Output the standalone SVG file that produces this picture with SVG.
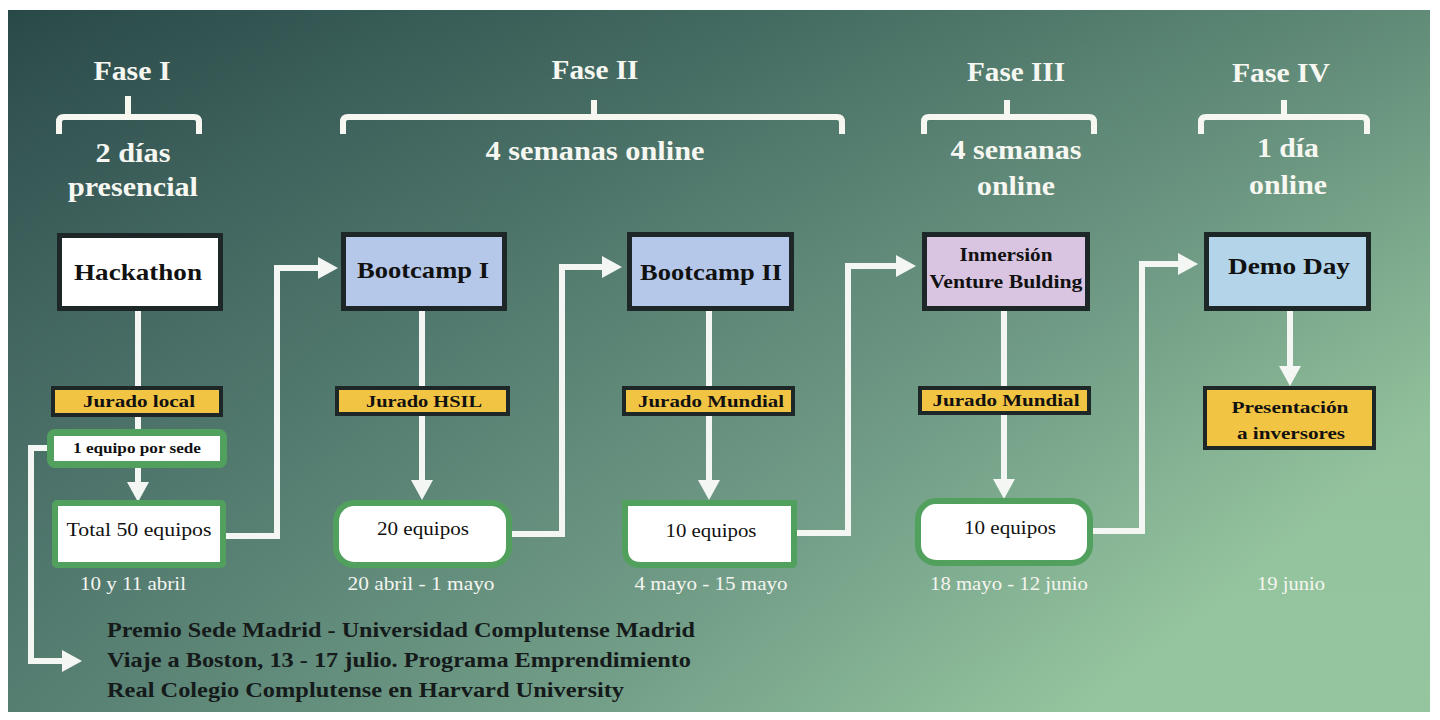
<svg xmlns="http://www.w3.org/2000/svg" width="1440" height="720" viewBox="0 0 1440 720">
<defs>
<linearGradient id="bg" x1="0" y1="0" x2="1" y2="0.6">
<stop offset="0" stop-color="#2b4c4c"/>
<stop offset="0.4" stop-color="#4a7468"/>
<stop offset="0.75" stop-color="#6e9c84"/>
<stop offset="1" stop-color="#90c39a"/>
</linearGradient>
<linearGradient id="shade" x1="0" y1="0" x2="0" y2="1">
<stop offset="0" stop-color="#1e3838" stop-opacity="0.15"/>
<stop offset="1" stop-color="#ffffff" stop-opacity="0.04"/>
</linearGradient>
<marker id="ah" markerWidth="20" markerHeight="22" refX="4" refY="11" orient="auto" markerUnits="userSpaceOnUse">
<path d="M0,0 L20,11 L0,22 z" fill="#f4f6f3"/>
</marker>
<style>
text{font-family:"Liberation Serif","DejaVu Serif",serif;text-anchor:middle}
.h{fill:#f7f7f2;font-weight:bold;font-size:27px}
.brace{fill:none;stroke:#f7f7f2;stroke-width:6;stroke-linejoin:round}
.node{stroke:#1e2727;stroke-width:5}
.nt{fill:#111;font-weight:bold;font-size:23px}
.jur{fill:#f2c443;stroke:#1e2727;stroke-width:4}
.jt{fill:#111;font-weight:bold;font-size:17px}
.res{fill:#fff;stroke:#52a05e;stroke-width:6}
.rt{fill:#111;font-size:18px}
.dt{fill:#f5f5f0;font-size:18px}
.con{fill:none;stroke:#f4f6f3;stroke-width:6}
.bt{fill:#151a1a;font-weight:bold;font-size:22px;text-anchor:start}
</style>
</defs>
<rect x="0" y="0" width="1440" height="720" fill="#ffffff"/>
<rect x="8" y="10" width="1422" height="702" fill="url(#bg)"/>
<rect x="8" y="10" width="1422" height="702" fill="url(#shade)"/>

<g id="phases">
<text class="h" x="132" y="80" textLength="77" lengthAdjust="spacingAndGlyphs">Fase I</text>
<path class="brace" d="M59,134 V122 Q59,117 64,117 H194 Q199,117 199,122 V134 M128,96 V117"/>
<text class="h" x="133" y="162" textLength="75" lengthAdjust="spacingAndGlyphs">2 días</text>
<text class="h" x="133" y="196" textLength="130" lengthAdjust="spacingAndGlyphs">presencial</text>

<text class="h" x="595" y="79" textLength="87" lengthAdjust="spacingAndGlyphs">Fase II</text>
<path class="brace" d="M343,134 V122 Q343,117 348,117 H837 Q842,117 842,122 V134 M594,100 V117"/>
<text class="h" x="595" y="160" textLength="219" lengthAdjust="spacingAndGlyphs">4 semanas online</text>

<text class="h" x="1016" y="81" textLength="98" lengthAdjust="spacingAndGlyphs">Fase III</text>
<path class="brace" d="M924,134 V122 Q924,117 929,117 H1089 Q1094,117 1094,122 V134 M1007,100 V117"/>
<text class="h" x="1016" y="159" textLength="131" lengthAdjust="spacingAndGlyphs">4 semanas</text>
<text class="h" x="1016" y="195" textLength="78" lengthAdjust="spacingAndGlyphs">online</text>

<text class="h" x="1281" y="82" textLength="98" lengthAdjust="spacingAndGlyphs">Fase IV</text>
<path class="brace" d="M1201,134 V122 Q1201,117 1206,117 H1362 Q1367,117 1367,122 V134 M1284,100 V117"/>
<text class="h" x="1288" y="157" textLength="62" lengthAdjust="spacingAndGlyphs">1 día</text>
<text class="h" x="1288" y="194" textLength="78" lengthAdjust="spacingAndGlyphs">online</text>
</g>

<g id="connectors">
<path class="con" d="M138,311 V430"/>
<path class="con" d="M138,466 V486" marker-end="url(#ah)"/>
<path class="con" d="M55,448 H31 V661 H66" marker-end="url(#ah)"/>
<path class="con" d="M224,536 H277 V268 H322" marker-end="url(#ah)"/>
<path class="con" d="M422,311 V484" marker-end="url(#ah)"/>
<path class="con" d="M510,534 H562 V267 H606" marker-end="url(#ah)"/>
<path class="con" d="M709,311 V484" marker-end="url(#ah)"/>
<path class="con" d="M795,533 H848 V266 H900" marker-end="url(#ah)"/>
<path class="con" d="M1004,311 V483" marker-end="url(#ah)"/>
<path class="con" d="M1091,531 H1142 V264 H1182" marker-end="url(#ah)"/>
<path class="con" d="M1290,311 V370" marker-end="url(#ah)"/>
</g>

<g id="hackathon">
<rect class="node" x="59.5" y="235.5" width="161" height="73" fill="#ffffff"/>
<text class="nt" x="138" y="280" textLength="128" lengthAdjust="spacingAndGlyphs">Hackathon</text>
</g>
<g id="bootcamp1">
<rect class="node" x="343.5" y="234.5" width="161" height="74" fill="#b5c8e9"/>
<text class="nt" x="423" y="278" textLength="132" lengthAdjust="spacingAndGlyphs">Bootcamp I</text>
</g>
<g id="bootcamp2">
<rect class="node" x="629.5" y="234.5" width="162" height="74" fill="#b5c8e9"/>
<text class="nt" x="711" y="280" textLength="142" lengthAdjust="spacingAndGlyphs">Bootcamp II</text>
</g>
<g id="inmersion">
<rect class="node" x="924.5" y="234.5" width="163" height="74" fill="#d9c5e1"/>
<text class="nt" x="1006" y="261" style="font-size:19px" textLength="93" lengthAdjust="spacingAndGlyphs">Inmersión</text>
<text class="nt" x="1006" y="288" style="font-size:19px" textLength="153" lengthAdjust="spacingAndGlyphs">Venture Bulding</text>
</g>
<g id="demoday">
<rect class="node" x="1206.5" y="234.5" width="162" height="74" fill="#b3d4e9"/>
<text class="nt" x="1289" y="274" textLength="122" lengthAdjust="spacingAndGlyphs">Demo Day</text>
</g>

<g id="jurado-local">
<rect class="jur" x="53" y="388" width="168" height="27"/>
<text class="jt" x="139" y="407" textLength="112" lengthAdjust="spacingAndGlyphs">Jurado local</text>
</g>
<g id="jurado-hsil">
<rect class="jur" x="337" y="388" width="171" height="26"/>
<text class="jt" x="424" y="407" textLength="116" lengthAdjust="spacingAndGlyphs">Jurado HSIL</text>
</g>
<g id="jurado-mundial-1">
<rect class="jur" x="624" y="388" width="169" height="26"/>
<text class="jt" x="711" y="407" textLength="146" lengthAdjust="spacingAndGlyphs">Jurado Mundial</text>
</g>
<g id="jurado-mundial-2">
<rect class="jur" x="920" y="388" width="169" height="25"/>
<text class="jt" x="1006" y="406" textLength="147" lengthAdjust="spacingAndGlyphs">Jurado Mundial</text>
</g>
<g id="presentacion">
<rect class="jur" x="1205" y="388" width="169" height="60"/>
<text class="jt" x="1290" y="413" textLength="117" lengthAdjust="spacingAndGlyphs">Presentación</text>
<text class="jt" x="1291" y="439" textLength="108" lengthAdjust="spacingAndGlyphs">a inversores</text>
</g>

<g id="equipo-sede">
<rect x="47" y="429" width="180" height="39" rx="8" fill="#52a05e"/>
<rect x="54" y="436" width="166" height="25" fill="#ffffff"/>
<text x="137" y="453" style="fill:#111;font-size:14px;font-weight:bold" textLength="128" lengthAdjust="spacingAndGlyphs">1 equipo por sede</text>
</g>

<g id="total50">
<rect class="res" x="55" y="503" width="168" height="62" rx="2"/>
<text class="rt" x="139" y="536" textLength="145" lengthAdjust="spacingAndGlyphs">Total 50 equipos</text>
</g>
<g id="eq20">
<rect class="res" x="336" y="503" width="173" height="62" rx="18"/>
<text class="rt" x="423" y="535" textLength="92" lengthAdjust="spacingAndGlyphs">20 equipos</text>
</g>
<g id="eq10a">
<path class="res" d="M625,503 H794 V563 Q794,565 792,565 H641 Q625,565 625,549 Z"/>
<text class="rt" x="711" y="537" textLength="91" lengthAdjust="spacingAndGlyphs">10 equipos</text>
</g>
<g id="eq10b">
<rect class="res" x="918" y="501" width="172" height="62" rx="18"/>
<text class="rt" x="1010" y="534" textLength="92" lengthAdjust="spacingAndGlyphs">10 equipos</text>
</g>

<g id="dates">
<text class="dt" x="133" y="590" textLength="106" lengthAdjust="spacingAndGlyphs">10 y 11 abril</text>
<text class="dt" x="421" y="590" textLength="147" lengthAdjust="spacingAndGlyphs">20 abril - 1 mayo</text>
<text class="dt" x="711" y="590" textLength="153" lengthAdjust="spacingAndGlyphs">4 mayo - 15 mayo</text>
<text class="dt" x="1009" y="590" textLength="158" lengthAdjust="spacingAndGlyphs">18 mayo - 12 junio</text>
<text class="dt" x="1291" y="590" textLength="68" lengthAdjust="spacingAndGlyphs">19 junio</text>
</g>

<g id="premio">
<text class="bt" x="107" y="637" textLength="588" lengthAdjust="spacingAndGlyphs">Premio Sede Madrid - Universidad Complutense Madrid</text>
<text class="bt" x="107" y="667" textLength="584" lengthAdjust="spacingAndGlyphs">Viaje a Boston, 13 - 17 julio. Programa Emprendimiento</text>
<text class="bt" x="107" y="697" textLength="517" lengthAdjust="spacingAndGlyphs">Real Colegio Complutense en Harvard University</text>
</g>
</svg>
